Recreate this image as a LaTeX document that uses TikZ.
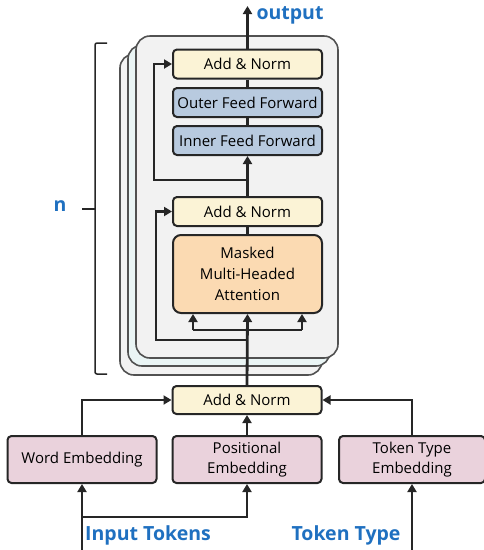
\documentclass[tikz,border=0pt]{standalone}
\usepackage{fontspec}
\setmainfont{Open Sans}
\usepackage{tikz}
\usetikzlibrary{arrows.meta}

\definecolor{linegray}{HTML}{262626}
\definecolor{normfill}{HTML}{FBF3D6}
\definecolor{fffill}{HTML}{B8CADF}
\definecolor{attfill}{HTML}{FBDAB2}
\definecolor{embfill}{HTML}{EAD2DC}
\definecolor{stackfill}{HTML}{F2F2F2}
\definecolor{stackmid}{HTML}{EAF5F5}
\definecolor{labelblue}{HTML}{1F70C0}

\begin{document}
\begin{tikzpicture}[x=1pt, y=-1pt,
    block/.style={draw=linegray, line width=2pt, rounded corners=4pt, minimum width=149pt,
        minimum height=29pt, inner sep=0pt, align=center, font=\fontsize{15}{21}\selectfont},
    norm/.style={block, fill=normfill},
    ff/.style={block, fill=fffill},
    emb/.style={block, fill=embfill, minimum height=47pt, font=\fontsize{15}{20}\selectfont},
    layer/.style={draw=linegray!80, line width=1.6pt, rounded corners=14pt},
    wire/.style={draw=linegray, line width=2.8pt},
    arr/.style={wire, -{Triangle[length=8pt, width=9pt]}},
    tag/.style={text=labelblue, font=\fontsize{19.5}{24}\selectfont\bfseries}]
\useasboundingbox (0,0) rectangle (484,550);

\draw[layer, fill=stackfill] (120,54) rectangle (322,375);
\draw[layer, fill=stackmid] (128,45) rectangle (330,366);
\draw[layer, fill=stackfill] (136,36) rectangle (338,358);

\node[norm] at (247.5,64) (addtop) {Add \& Norm};
\node[ff] at (247.5,102.5) (outerff) {Outer Feed Forward};
\node[ff] at (247.5,140.5) (innerff) {Inner Feed Forward};
\node[norm] at (247.5,211.5) (addmid) {Add \& Norm};
\node[block, fill=attfill, minimum height=78pt, rounded corners=8pt] at (247.5,274) (mha) {Masked\\Multi-Headed\\Attention};
\node[norm, minimum height=28pt] at (247,400) (addbot) {Add \& Norm};
\node[emb] at (82,459.5) (wordemb) {Word Embedding};
\node[emb] at (247,459.5) (posemb) {Positional\\Embedding};
\node[emb, minimum width=146pt] at (412,459.5) (typeemb) {Token Type\\Embedding};

\coordinate (out) at (247.5,6);
\coordinate (split2) at (247.5,180);
\coordinate (split1) at (247.5,340);
\coordinate (headl) at (193,330);
\coordinate (headr) at (302,330);
\coordinate (intok) at (82,552);
\coordinate (fork) at (82,517);
\coordinate (typetok) at (412,552);
\coordinate (bracetip) at (82,209);

\node[tag, anchor=west] at (253,15) (outlbl) {output};
\node[tag] at (148,535) (inlbl) {Input Tokens};
\node[tag] at (346,535) (typelbl) {Token Type};
\node[tag] at (60,206) (nlbl) {n};
\draw[linegray, line width=1.5pt, rounded corners=2pt] (107,43) -- (95,43) -- (95,374) -- (107,374);
\draw[linegray, line width=1.5pt] (bracetip) -- (95,209);

\draw[arr] (addtop.north) -- (out);
\draw[wire] (addtop.south) -- (outerff.north);
\draw[wire] (outerff.south) -- (innerff.north);
\draw[arr] (addmid.north) -- (innerff.south);
\draw[arr] (split2) -- (154,180) |- (addtop.west);
\draw[wire] (addmid.south) -- (mha.north);
\draw[arr] (addbot.north) -- (mha.south);
\draw[arr] (split1) -- (156,340) |- (addmid.west);
\draw[wire] (headl) -- (headr);
\draw[arr] (headl) -- (headl |- mha.south);
\draw[arr] (headr) -- (headr |- mha.south);

\draw[arr] (wordemb.north) |- (addbot.west);
\draw[arr] (posemb.north) -- (addbot.south);
\draw[arr] (typeemb.north) |- (addbot.east);
\draw[arr] (intok) -- (wordemb.south);
\draw[arr] (fork) -| (posemb.south);
\draw[arr] (typetok) -- (typeemb.south);
\end{tikzpicture}
\end{document}
